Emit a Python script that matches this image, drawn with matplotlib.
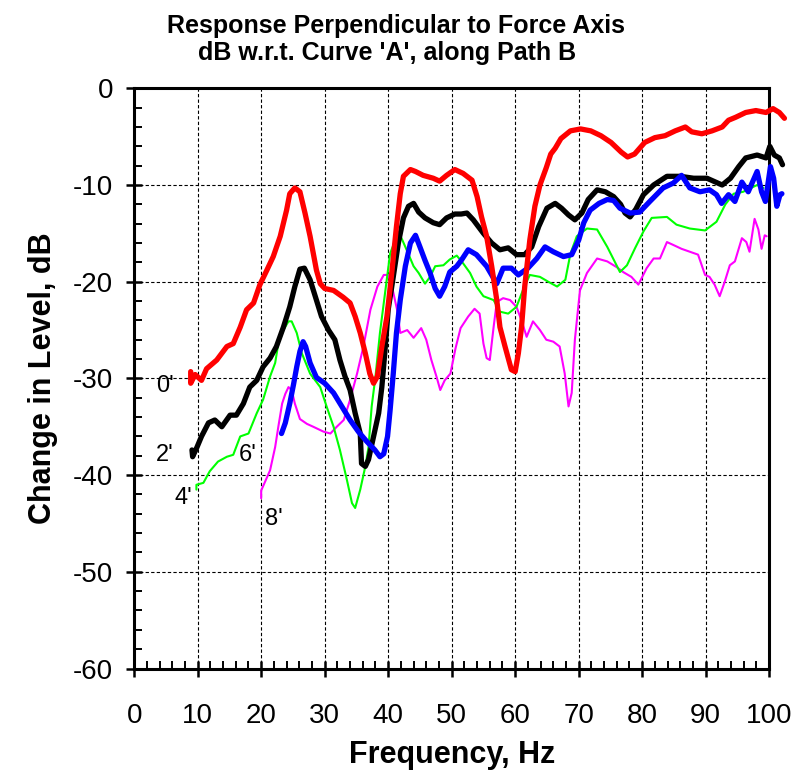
import matplotlib
matplotlib.use("Agg")
import matplotlib.pyplot as plt
from matplotlib.ticker import MultipleLocator

plt.rcParams['font.family'] = ['Liberation Sans', 'DejaVu Sans']
plt.rcParams['axes.unicode_minus'] = False

# (frequency Hz, change in level dB)
curve_0ft = [(8.9, -29.3), (8.9, -30.5), (9.6, -29.6), (10.6, -30.2), (11.4, -29.0), (13.0, -28.1),
             (14.6, -26.7), (15.6, -26.4), (16.7, -24.7), (17.7, -22.9), (18.8, -22.2), (19.8, -20.3),
             (20.9, -18.8), (21.9, -17.4), (23.0, -15.3), (24.0, -12.6), (24.5, -10.9), (25.3, -10.3),
             (26.1, -10.7), (26.9, -12.9), (27.7, -15.3), (28.7, -18.8), (29.3, -20.2), (30.0, -20.7),
             (31.4, -20.9), (32.9, -21.6), (34.0, -22.2), (34.8, -23.6), (35.6, -25.3), (36.4, -27.4),
             (37.1, -29.5), (37.7, -30.5), (38.3, -29.8), (39.0, -26.7), (39.8, -23.6), (40.5, -19.5),
             (41.3, -14.3), (41.9, -10.9), (42.4, -9.1), (43.5, -8.4), (44.3, -8.6), (45.5, -9.0),
             (47.1, -9.3), (48.1, -9.6), (49.2, -9.0), (50.5, -8.4), (51.8, -8.8), (53.2, -9.5),
             (54.0, -11.2), (54.7, -13.3), (55.5, -15.3), (56.3, -18.4), (57.1, -21.9), (57.6, -24.7),
             (58.4, -26.7), (59.4, -29.1), (60.0, -29.3), (60.5, -27.4), (61.0, -24.7), (61.5, -20.5),
             (62.3, -15.7), (63.1, -12.2), (63.9, -10.0), (64.9, -8.2), (65.6, -6.8), (66.3, -6.2),
             (67.2, -5.2), (68.7, -4.4), (70.3, -4.2), (71.9, -4.4), (73.5, -4.9), (75.1, -5.6),
             (76.7, -6.6), (77.7, -7.1), (78.8, -6.8), (80.4, -5.6), (82.0, -5.1), (83.6, -4.9),
             (85.2, -4.4), (86.8, -4.0), (87.8, -4.5), (89.4, -4.7), (91.0, -4.4), (92.6, -4.0),
             (93.6, -3.3), (94.7, -3.0), (96.3, -2.5), (97.9, -2.3), (99.5, -2.5), (100.6, -2.1),
             (101.6, -2.5), (102.4, -3.1)]

curve_2ft = [(9.1, -37.4), (9.2, -38.1), (9.9, -37.1), (10.6, -36.0), (11.7, -34.6), (12.7, -34.3),
             (13.8, -35.0), (15.1, -33.8), (16.1, -33.8), (17.2, -32.6), (18.2, -30.9), (19.3, -30.2),
             (20.3, -28.8), (21.4, -27.9), (22.4, -26.7), (23.5, -24.7), (24.5, -22.6), (25.3, -20.5),
             (26.1, -18.7), (26.8, -18.6), (27.7, -19.8), (28.7, -21.9), (29.5, -23.6), (30.6, -25.0),
             (31.6, -26.0), (32.4, -28.1), (33.2, -29.8), (34.0, -31.2), (34.8, -33.6), (35.6, -35.7),
             (35.8, -38.8), (36.4, -39.1), (36.9, -38.4), (37.7, -36.0), (38.5, -33.6), (39.0, -30.9),
             (39.5, -27.1), (40.0, -22.9), (40.8, -19.5), (41.6, -16.0), (42.4, -13.4), (43.2, -12.2),
             (44.0, -11.9), (44.8, -12.8), (45.8, -13.4), (47.1, -13.9), (48.1, -14.1), (49.2, -13.4),
             (50.5, -13.0), (51.5, -13.0), (52.4, -12.9), (53.4, -13.6), (55.0, -15.0), (56.3, -16.0),
             (57.6, -16.7), (58.9, -16.5), (60.2, -17.2), (61.5, -17.2), (62.6, -16.4), (63.7, -14.3),
             (65.0, -12.4), (66.3, -11.9), (67.3, -12.4), (68.4, -13.1), (69.4, -13.6), (70.5, -12.9),
             (71.5, -11.5), (72.9, -10.5), (74.2, -10.7), (75.5, -11.2), (76.6, -12.0), (77.3, -12.9),
             (78.1, -13.3), (79.0, -12.5), (80.2, -11.0), (81.8, -10.0), (83.9, -9.1), (86.0, -9.1),
             (88.1, -9.3), (90.2, -9.3), (92.6, -10.0), (93.9, -9.3), (95.2, -8.1), (96.3, -7.2),
             (98.1, -6.9), (99.5, -7.2), (100.1, -6.0), (100.8, -6.9), (101.6, -7.2), (102.1, -7.9)]

curve_6ft = [(23.2, -35.7), (23.8, -34.6), (24.5, -32.6), (25.1, -30.6), (25.6, -28.8), (26.1, -27.2),
             (26.6, -26.2), (27.0, -26.7), (27.7, -28.4), (28.7, -29.9), (30.0, -30.5), (31.4, -31.5),
             (32.7, -32.9), (34.0, -34.3), (35.3, -35.5), (36.6, -36.5), (37.9, -37.4), (38.7, -38.1),
             (39.3, -37.8), (39.9, -36.0), (40.3, -33.3), (40.8, -29.5), (41.3, -25.3), (41.9, -21.9),
             (42.7, -18.4), (43.5, -16.0), (44.3, -15.2), (45.0, -16.4), (45.8, -17.8), (46.6, -19.1),
             (47.4, -20.7), (48.1, -21.5), (48.9, -20.5), (49.7, -19.0), (50.8, -18.4), (51.5, -17.8),
             (52.6, -16.7), (53.9, -17.2), (55.5, -18.4), (57.1, -20.2), (58.1, -18.6), (59.4, -18.6),
             (60.5, -19.3), (62.0, -18.6), (63.4, -17.6), (64.7, -16.4), (66.0, -16.9), (67.6, -17.4),
             (68.9, -17.2), (70.0, -15.7), (70.8, -13.9), (71.8, -12.6), (73.2, -11.9), (74.5, -11.5),
             (75.5, -11.6), (76.5, -12.4), (78.1, -12.9), (79.6, -12.8), (81.2, -11.7), (83.3, -10.3),
             (84.9, -9.8), (86.2, -9.0), (87.5, -10.3), (89.1, -10.7), (90.6, -10.5), (91.7, -11.0),
             (92.5, -11.9), (93.6, -11.0), (94.6, -11.7), (95.7, -9.7), (96.7, -10.7), (98.1, -8.6),
             (98.8, -10.7), (99.4, -11.7), (100.2, -8.1), (100.7, -9.3), (101.2, -12.2), (101.7, -11.0),
             (102.0, -10.9)]

curve_4ft = [(9.8, -41.5), (9.8, -41.0), (10.9, -40.8), (11.9, -39.6), (13.2, -38.6), (14.6, -38.1),
             (15.6, -37.9), (16.7, -36.0), (18.0, -35.7), (19.3, -33.6), (20.3, -32.2), (21.4, -29.8),
             (22.2, -28.4), (22.7, -26.4), (23.5, -25.0), (24.3, -24.1), (24.8, -24.1), (25.6, -25.3),
             (26.4, -27.4), (27.7, -29.5), (29.3, -30.9), (30.3, -32.9), (31.4, -35.0), (32.4, -37.4),
             (33.5, -40.5), (34.3, -42.9), (34.8, -43.4), (35.6, -41.5), (36.4, -39.1), (36.9, -37.1),
             (37.4, -32.9), (38.0, -29.8), (38.7, -25.3), (39.5, -21.2), (40.3, -17.1), (41.1, -15.7),
             (41.6, -15.2), (42.1, -15.5), (42.9, -16.7), (44.0, -18.4), (44.8, -19.1), (45.8, -20.2),
             (46.6, -19.5), (47.4, -18.4), (48.7, -18.3), (49.7, -17.7), (50.8, -17.3), (51.8, -18.1),
             (52.9, -19.1), (53.9, -20.5), (55.0, -21.5), (56.6, -21.9), (57.6, -23.1), (58.9, -23.3),
             (60.2, -22.6), (61.2, -20.9), (62.3, -19.3), (63.9, -19.5), (65.2, -20.0), (66.6, -20.5),
             (67.9, -19.8), (68.7, -17.1), (69.7, -15.3), (71.3, -14.5), (72.9, -14.6), (74.5, -16.4),
             (75.5, -17.7), (76.5, -19.0), (77.6, -18.3), (78.9, -16.5), (80.2, -14.8), (81.5, -13.4),
             (83.9, -13.3), (85.4, -14.1), (87.5, -14.5), (89.9, -14.7), (91.7, -13.8), (93.1, -12.0),
             (94.4, -10.9), (95.9, -10.7), (98.1, -10.0), (99.1, -10.3)]

curve_8ft = [(20.0, -42.4), (20.0, -41.6), (20.6, -40.7), (21.4, -39.5), (22.2, -37.1), (22.7, -35.0),
             (23.3, -32.6), (23.8, -31.6), (24.3, -30.9), (24.8, -31.2), (25.3, -32.6), (26.1, -34.2),
             (27.2, -34.7), (28.2, -35.0), (29.8, -35.5), (30.9, -35.7), (31.9, -35.0), (33.0, -34.3),
             (34.0, -32.2), (35.1, -29.5), (36.1, -26.7), (37.2, -22.9), (38.3, -20.5), (39.3, -19.3),
             (40.0, -19.3), (40.6, -20.5), (41.4, -22.9), (41.9, -25.3), (43.0, -25.0), (44.0, -25.8),
             (45.2, -24.8), (46.0, -26.0), (46.8, -28.1), (47.6, -29.8), (48.2, -31.2), (48.9, -30.2),
             (49.8, -29.5), (50.6, -26.9), (51.4, -24.8), (52.6, -23.6), (53.6, -22.8), (54.4, -23.3),
             (55.0, -26.4), (55.5, -27.9), (56.0, -28.1), (56.6, -24.7), (57.1, -22.1), (58.1, -21.7),
             (59.2, -21.9), (60.2, -22.6), (61.0, -24.0), (61.8, -25.7), (62.8, -24.1), (63.9, -25.0),
             (64.9, -26.0), (66.0, -26.2), (67.0, -26.7), (67.8, -29.5), (68.4, -32.9), (68.9, -31.5),
             (69.4, -26.0), (70.2, -20.9), (71.3, -19.1), (72.9, -17.6), (74.5, -17.9), (76.0, -18.5),
             (77.0, -19.0), (78.3, -19.5), (79.4, -20.3), (80.7, -18.6), (81.8, -17.6), (82.8, -17.6),
             (83.9, -15.9), (84.9, -16.2), (86.2, -16.6), (87.5, -16.9), (88.8, -17.2), (89.9, -19.3),
             (90.6, -19.5), (91.4, -20.3), (92.2, -21.5), (93.0, -20.0), (93.8, -18.3), (94.6, -17.9),
             (95.7, -15.5), (96.4, -15.9), (96.9, -16.9), (97.7, -13.5), (98.3, -14.6), (98.8, -16.6),
             (99.3, -15.2), (99.6, -15.3)]

# curve labels and where they sit (Hz, dB)
label_text = ["0'", "2'", "4'", "6'", "8'"]
label_pos = [(4.85, -30.8), (4.8, -37.9), (7.7, -42.4), (17.9, -37.9), (22.0, -44.5)]

fig = plt.figure(figsize=(8.03, 7.74), dpi=100)
ax = fig.add_axes([0.1671, 0.1363, 0.7908, 0.7496])

# draw order: thin ones underneath
styles = [
    (curve_8ft, "#ff00ff", 1.5, 2),
    (curve_4ft, "#00ff00", 1.5, 3),
    (curve_2ft, "black", 3.8, 4),
    (curve_6ft, "#0000ff", 3.8, 5),
    (curve_0ft, "#ff0000", 3.8, 6),
]
for data, col, lw, z in styles:
    f = [p[0] for p in data]
    db = [p[1] for p in data]
    ax.plot(f, db, color=col, lw=lw, zorder=z, clip_on=False,
            solid_joinstyle="round", solid_capstyle="round")

for txt, (x, y) in zip(label_text, label_pos):
    ax.text(x, y, txt, fontsize=17, ha="center", va="center", zorder=7)

ax.set_xlim(0, 100)
ax.set_ylim(-60, 0)
ax.xaxis.set_major_locator(MultipleLocator(10))
ax.xaxis.set_minor_locator(MultipleLocator(2))
ax.yaxis.set_major_locator(MultipleLocator(10))
ax.yaxis.set_minor_locator(MultipleLocator(2))

ax.grid(True, which="major", color="black", lw=0.8, linestyle=(0, (3, 2)))
ax.tick_params(which="major", direction="inout", length=12, width=1.8,
               labelsize=20, top=False, right=False)
ax.tick_params(which="minor", direction="in", length=5.5, width=1.4,
               top=False, right=False)
ax.tick_params(axis="x", which="major", pad=19)
ax.tick_params(axis="y", which="major", pad=9)
for s in ax.spines.values():
    s.set_linewidth(2.2)

ax.set_xlabel("Frequency, Hz", fontsize=22, fontweight="bold", labelpad=8)
ax.set_ylabel("Change in Level, dB", fontsize=22, fontweight="bold", labelpad=11)

fig.text(0.493, 0.957, "Response Perpendicular to Force Axis", fontsize=18,
         fontweight="bold", ha="center", va="baseline")
fig.text(0.482, 0.922, "dB w.r.t. Curve 'A', along Path B", fontsize=18,
         fontweight="bold", ha="center", va="baseline")

fig.savefig("out.png", dpi=100)
